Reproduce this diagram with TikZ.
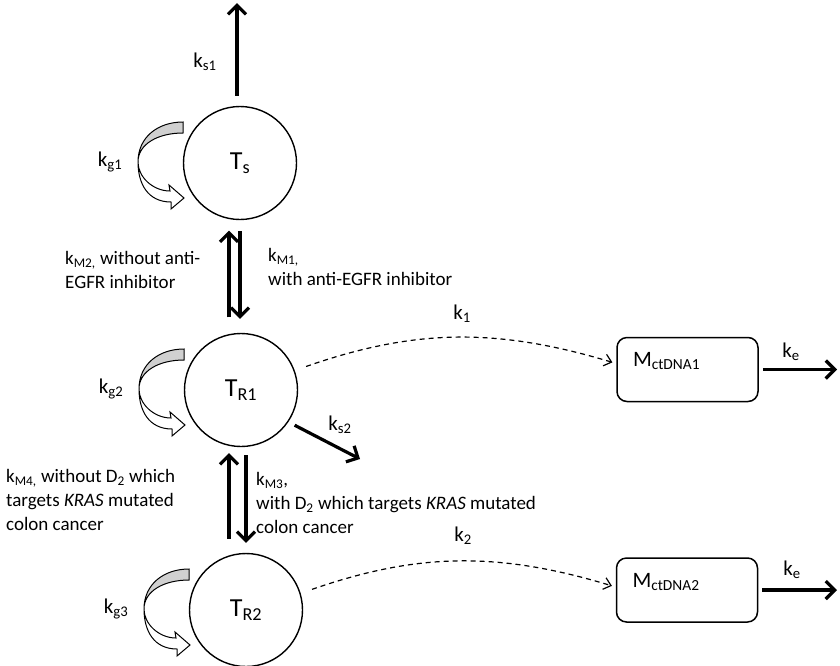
\documentclass[tikz,border=0pt]{standalone}
\usepackage{fontspec}
\setmainfont{Carlito}
\usetikzlibrary{arrows.meta}
\definecolor{modelink}{HTML}{000000}
\definecolor{modelgrey}{HTML}{D0D0D0}
\newcommand{\lowidx}[1]{\textsubscript{#1}}
\newcommand{\descfont}{\fontsize{19}{24}\selectfont}
\newcommand{\growloop}[3]{%
  \begin{scope}[shift={(#1.center)}, shift={(-102,1)}]
    \filldraw[modelink, fill=modelgrey, line width=1pt] (0,0) .. controls (0,25) and (20,40) .. (45,40) -- (45,29) .. controls (20,29) and (0,18) .. (0,0) -- cycle;
    \filldraw[modelink, fill=white, line width=1pt] (0,0) .. controls (0,-15) and (15,-29) .. (32,-29) -- (31,-23) -- (46,-36) -- (33,-47) -- (33,-40) .. controls (10,-40) and (0,-22) .. (0,0) -- cycle;
    \node[rate] (#2) at (-28,0) {#3};
  \end{scope}
}

\begin{document}
\begin{tikzpicture}[x=1pt, y=1pt,
  pool/.style={circle, draw=modelink, line width=1.4pt, minimum size=113pt, inner sep=0pt, font=\fontsize{26}{30}\selectfont},
  store/.style={draw=modelink, rounded corners=10pt, line width=1.5pt, minimum width=141pt, minimum height=64pt, inner xsep=16pt, text width=109pt, align=left, text height=14pt, text depth=20pt, font=\fontsize{22}{26}\selectfont},
  rate/.style={font=\fontsize{21}{25}\selectfont, inner sep=0pt},
  note/.style={font=\descfont, align=left, anchor=west, inner sep=0pt},
  flow/.style={modelink, line width=3.2pt, -{Straight Barb[length=9pt, width=18pt]}},
  release/.style={modelink, line width=1.2pt, dash pattern=on 5pt off 4pt, -{Straight Barb[length=7pt, width=12pt]}}]

  \useasboundingbox (0,0) rectangle (840,-665);

  \node[pool] (Ts) at (240,-163) {T\lowidx{s}};
  \node[pool] (TR1) at (241,-390) {T\lowidx{R1}};
  \node[pool] (TR2) at (246,-610) {T\lowidx{R2}};
  \node[store] (M1) at (687.5,-369.5) {M\lowidx{ctDNA1}};
  \node[store] (M2) at (687,-590) {M\lowidx{ctDNA2}};

  \coordinate (ks1end) at (237,-3);
  \coordinate (ks2end) at (360,-459);
  \coordinate (ke1end) at (837,-369.5);
  \coordinate (ke2end) at (837,-590);

  \growloop{Ts}{kg1}{k\lowidx{g1}}
  \growloop{TR1}{kg2}{k\lowidx{g2}}
  \growloop{TR2}{kg3}{k\lowidx{g3}}

  \draw[flow, shorten <=10pt] ([xshift=-3pt]Ts.north) -- (ks1end);
  \draw[flow, shorten <=11pt, shorten >=14pt] (Ts.south) -- (Ts.south |- TR1.north);
  \draw[flow, shorten <=15.5pt, shorten >=10.5pt] ([xshift=-12pt]TR1.north) -- ([xshift=-12pt]TR1.north |- Ts.south);
  \draw[flow, shorten <=8pt, shorten >=10pt] ([xshift=5pt]TR1.south) -- ([xshift=5pt]TR1.south |- TR2.north);
  \draw[flow, shorten <=14pt, shorten >=6pt] ([xshift=-17pt]TR2.north) -- ([xshift=-17pt]TR2.north |- TR1.south);
  \draw[flow, shorten <=7pt] (TR1.-34) -- (ks2end);
  \draw[flow, shorten <=4pt] (M1.east) -- (ke1end);
  \draw[flow, shorten <=4pt] (M2.east) -- (ke2end);

  \draw[release, shorten <=12pt, shorten >=4pt] (TR1.20) to[bend left=18] ([yshift=6pt]M1.west);
  \draw[release, shorten <=12pt, shorten >=4pt] (TR2.17) to[bend left=18] ([yshift=3pt]M2.west);

  \node[rate] (ks1) at (205,-62) {k\lowidx{s1}};
  \node[rate] (ks2) at (340,-425) {k\lowidx{s2}};
  \node[rate] (k1) at (462,-314) {k\lowidx{1}};
  \node[rate] (k2) at (463,-536) {k\lowidx{2}};
  \node[rate] (ke1) at (791,-352) {k\lowidx{e}};
  \node[rate] (ke2) at (792,-570) {k\lowidx{e}};

  \node[note] (mtwo) at (65,-270) {k\lowidx{M2,} without anti-\\EGFR inhibitor};
  \node[note] (mone) at (268,-267) {k\lowidx{M1,}\\with anti-EGFR inhibitor};
  \node[note] (mfour) at (6,-500) {k\lowidx{M4,} without D\lowidx{2} which\\targets \textit{KRAS} mutated\\colon cancer};
  \node[note] (mthree) at (256,-503) {k\lowidx{M3},\\with D\lowidx{2} which targets \textit{KRAS} mutated\\colon cancer};

\end{tikzpicture}
\end{document}
